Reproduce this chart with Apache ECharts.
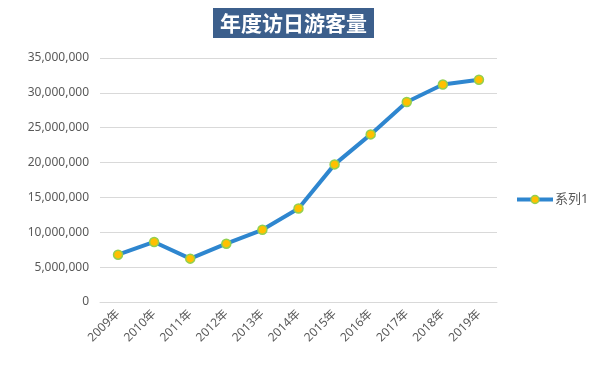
<!DOCTYPE html>
<html>
<head>
<meta charset="utf-8">
<script src="https://cdn.jsdelivr.net/npm/echarts@6/dist/echarts.min.js"></script>
<style>
html,body{margin:0;padding:0;background:#fff;}
#chart{width:600px;height:365px;}
</style>
</head>
<body>
<div id="chart"></div>
<script>
var titleText = '年度访日游客量';
var seriesName = '系列1';
var categories = ['2009年','2010年','2011年','2012年','2013年','2014年','2015年','2016年','2017年','2018年','2019年'];
var visitors = [6790000, 8610000, 6220000, 8360000, 10360000, 13410000, 19740000, 24040000, 28690000, 31190000, 31880000];
var yMin = 0, yMax = 35000000, yStep = 5000000;

var chart = echarts.init(document.getElementById('chart'), null, {renderer:'canvas'});
var font = '"Noto Sans", "Noto Sans CJK SC", sans-serif';
chart.setOption({
  animation:false,
  backgroundColor:'#ffffff',
  title:{
    text:titleText,
    left:213,
    top:8,
    padding:[3,7,3,7],
    backgroundColor:'#3C5F8C',
    textStyle:{color:'#ffffff',fontSize:21,fontWeight:'bold',fontFamily:'"Noto Sans CJK SC", sans-serif',lineHeight:24}
  },
  legend:{
    data:[seriesName],
    left:510,
    top:188,
    itemWidth:36,
    itemHeight:10,
    itemGap:2,
    lineStyle:{width:4,color:'#2E86CF'},
    itemStyle:{color:'#FFC000',borderColor:'#92D050',borderWidth:1.5},
    textStyle:{color:'#595959',fontSize:13,fontFamily:font,padding:[0,0,0,-3]}
  },
  grid:{left:100,right:103,top:58,bottom:63},
  xAxis:{
    type:'category',
    data:categories,
    boundaryGap:true,
    axisLine:{show:true,lineStyle:{color:'#D9D9D9',width:1}},
    axisTick:{show:false},
    axisLabel:{rotate:45,color:'#595959',fontSize:12,fontFamily:font,margin:10,interval:0}
  },
  yAxis:{
    type:'value',
    min:yMin,max:yMax,interval:yStep,
    axisLine:{show:false},
    axisTick:{show:false},
    splitLine:{lineStyle:{color:'#D9D9D9',width:1}},
    axisLabel:{color:'#595959',fontSize:12,fontFamily:font,margin:11,
      formatter:function(v){return v.toLocaleString('en-US');}}
  },
  series:[{
    name:seriesName,
    type:'line',
    data:visitors,
    symbol:'circle',
    symbolSize:9,
    lineStyle:{color:'#2E86CF',width:4},
    itemStyle:{color:'#FFC000',borderColor:'#92D050',borderWidth:1.5},
    emphasis:{disabled:true}
  }]
});
</script>
</body>
</html>
